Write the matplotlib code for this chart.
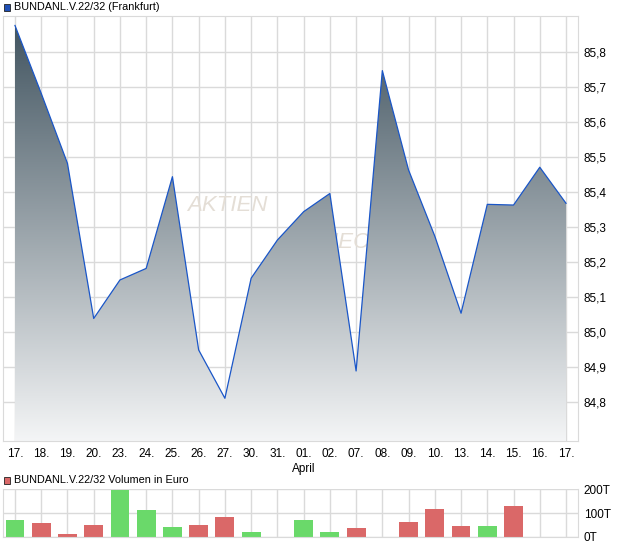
import matplotlib.pyplot as plt
import numpy as np
from matplotlib.colors import LinearSegmentedColormap
from matplotlib.patches import Polygon, Rectangle

plt.rcParams['font.family'] = ['Liberation Sans', 'DejaVu Sans']

dates = ["17.", "18.", "19.", "20.", "23.", "24.", "25.", "26.", "27.", "30.", "31.",
         "01.", "02.", "07.", "08.", "09.", "10.", "13.", "14.", "15.", "16.", "17."]
price = [85.875, 85.681, 85.481, 85.038, 85.148, 85.181, 85.443, 84.948, 84.810, 85.153, 85.262,
         85.343, 85.395, 84.888, 85.746, 85.462, 85.273, 85.053, 85.364, 85.362, 85.470, 85.367]
volume = [70, 58, 11, 49, 198, 113, 41, 49, 83, 20, 0,
          70, 20, 37, 0, 62, 117, 45, 45, 130, 0, 0]
month_label = "April"
month_at = 11

grid_c = "#dadada"
up_c = "#6ad96a"
down_c = "#da6868"

fig = plt.figure(figsize=(6.2, 5.46), dpi=100)
ax = fig.add_axes([3 / 620, 1 - 441 / 546, 575 / 620, 425 / 546])
axv = fig.add_axes([3 / 620, 1 - 536.7 / 546, 575 / 620, 47.4 / 546])

x = np.arange(len(price))
xlo, xhi = -0.457, len(price) - 1 + 0.457
ylo, yhi = 84.688, 85.902

# gradient area under the price line
cmap = LinearSegmentedColormap.from_list("fade", ["#f4f5f6", "#3f525e"])
grad = np.linspace(0, 1, 256).reshape(-1, 1)
im = ax.imshow(grad, extent=[xlo, xhi, ylo, yhi], origin='lower', aspect='auto',
               cmap=cmap, zorder=1)
verts = [(x[0], ylo)] + list(zip(x, price)) + [(x[-1], ylo)]
poly = Polygon(verts, closed=True, facecolor='none', edgecolor='none')
ax.add_patch(poly)
im.set_clip_path(poly)
ax.plot(x, price, color="#1a56c8", lw=0.9, zorder=3)

# watermark
ax.text(8.1, 85.36, "AKTIEN", color="#e4ded6", fontsize=16, style='italic',
        ha='center', va='center', zorder=0.8)
ax.text(12.6, 85.255, "CHECK", color="#e4ded6", fontsize=16, style='italic',
        ha='center', va='center', zorder=0.8)

ax.set_xlim(xlo, xhi)
ax.set_ylim(ylo, yhi)
ax.set_xticks(x)
ax.set_xticklabels(dates, fontsize=8.5)
yt = np.round(np.arange(84.8, 85.85, 0.1), 1)
ax.set_yticks(yt)
ax.set_yticklabels([f"{v:.1f}".replace('.', ',') for v in yt], fontsize=8.5)
ax.yaxis.tick_right()
ax.tick_params(length=0, pad=4)
ax.tick_params(axis='x', pad=5)
ax.grid(True, color=grid_c, lw=1)
ax.set_axisbelow(True)
for s in ax.spines.values():
    s.set_color(grid_c)
ax.annotate(month_label, xy=(month_at, 0), xycoords=('data', 'axes fraction'),
            xytext=(0, -20.5), textcoords='offset points', ha='center', va='center',
            fontsize=8.5)

# title legend
fig.patches.append(Rectangle((4 / 620, 1 - 11 / 546), 6 / 620, 7 / 546,
                             transform=fig.transFigure, facecolor="#1f4fb5",
                             edgecolor="#222222", lw=0.6))
fig.text(14 / 620, 1 - 7 / 546, "BUNDANL.V.22/32 (Frankfurt)", fontsize=7.8,
         va='center', ha='left')

# volume panel
colors = [up_c]
for i in range(1, len(price)):
    colors.append(up_c if price[i] >= price[i - 1] else down_c)
axv.bar(x, volume, width=0.72, color=colors, zorder=2)
axv.set_xlim(xlo, xhi)
axv.set_ylim(0, 200)
axv.set_xticks(x)
axv.set_xticklabels([])
axv.set_yticks([0, 100, 200])
axv.set_yticklabels(["0T", "100T", "200T"], fontsize=8.5)
axv.yaxis.tick_right()
axv.tick_params(length=0, pad=4)
axv.grid(True, color=grid_c, lw=1)
axv.set_axisbelow(True)
for s in axv.spines.values():
    s.set_color(grid_c)
axv.spines['top'].set_visible(False)

fig.patches.append(Rectangle((4 / 620, 1 - 484 / 546), 6 / 620, 7 / 546,
                             transform=fig.transFigure, facecolor=down_c,
                             edgecolor="#222222", lw=0.6))
fig.text(14 / 620, 1 - 480 / 546, "BUNDANL.V.22/32 Volumen in Euro", fontsize=7.8,
         va='center', ha='left')

fig.savefig("out.png", dpi=100)
